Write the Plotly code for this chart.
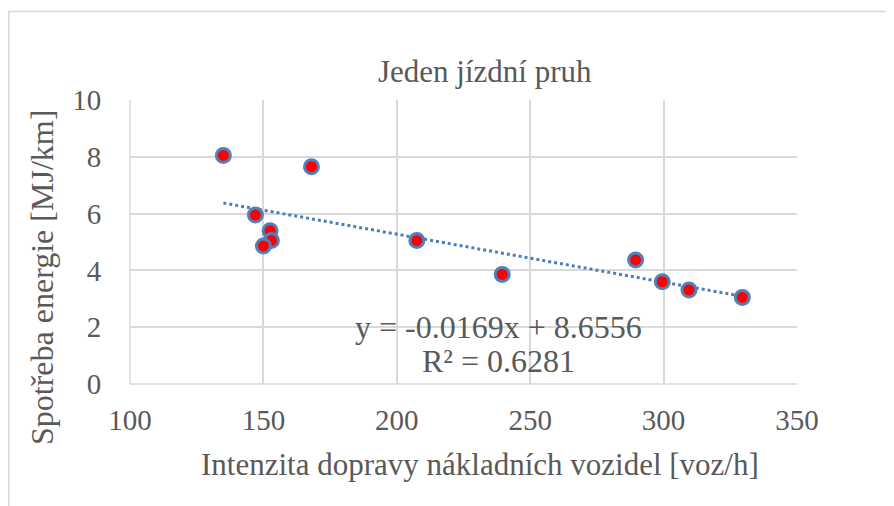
import plotly.graph_objects as go
import numpy as np

intenzita = [135, 168, 147, 152.5, 153, 150, 207.5, 239.5, 289.5, 299.5, 309.5, 329.5]
spotreba = [8.05, 7.65, 5.95, 5.4, 5.05, 4.86, 5.05, 3.86, 4.37, 3.6, 3.31, 3.05]
slope = -0.0169
intercept = 8.6556
r2 = 0.6281
x_ticks = [100, 150, 200, 250, 300, 350]
y_ticks = [0, 2, 4, 6, 8, 10]

OFF = 8  # page body margin
W, H = 894 - OFF, 506 - OFF
L, R, T, B = 130 - OFF, 797 - OFF, 100 - OFF, 384 - OFF
pw, ph = R - L, B - T

def px(xp):
    return (xp - OFF - L) / pw

def py(yp):
    return (B - (yp - OFF)) / ph

FONT = "Liberation Serif"
TXT = "#595959"

xmin, xmax = min(intenzita), max(intenzita)
trend_x = np.linspace(xmin, xmax, 50)
trend_y = slope * trend_x + intercept

fig = go.Figure()
fig.add_trace(go.Scatter(x=trend_x, y=trend_y, mode="lines",
                         line=dict(color="#4a7ebb", width=3, dash="dot"),
                         hoverinfo="skip", showlegend=False))
fig.add_trace(go.Scatter(x=intenzita, y=spotreba, mode="markers",
                         marker=dict(color="#ff0000", size=14,
                                     line=dict(color="#4f81bd", width=3)),
                         showlegend=False))

fig.update_layout(
    width=W, height=H,
    margin=dict(l=L, r=W - R, t=T, b=H - B, pad=0),
    paper_bgcolor="white", plot_bgcolor="white",
    font=dict(family=FONT, color=TXT, size=29),
    xaxis=dict(range=[100, 350], tickvals=x_ticks, showgrid=True, gridcolor="#d9d9d9",
               gridwidth=1.5, zeroline=False, showline=False, ticks="outside",
               ticklen=10, tickcolor="rgba(0,0,0,0)",
               tickfont=dict(family=FONT, size=29, color=TXT)),
    yaxis=dict(range=[0, 10], tickvals=y_ticks, showgrid=True, gridcolor="#d9d9d9",
               gridwidth=1.5, zeroline=False, showline=False, ticks="outside",
               ticklen=22, tickcolor="rgba(0,0,0,0)",
               tickfont=dict(family=FONT, size=29, color=TXT)),
    shapes=[
        dict(type="rect", xref="paper", yref="paper",
             x0=px(8.75), x1=px(910), y0=py(11.5), y1=py(520),
             line=dict(color="#d9d9d9", width=1.5), layer="below"),
        dict(type="line", xref="paper", yref="paper", x0=0, x1=0, y0=0, y1=1,
             line=dict(color="#d9d9d9", width=1.5)),
        dict(type="line", xref="paper", yref="paper", x0=0, x1=1, y0=0, y1=0,
             line=dict(color="#d9d9d9", width=1.5)),
    ],
    annotations=[
        dict(text="Jeden jízdní pruh", xref="paper", yref="paper",
             x=px(485), y=py(72), showarrow=False, font=dict(family=FONT, size=31, color=TXT),
             xanchor="center", yanchor="middle"),
        dict(text="Intenzita dopravy nákladních vozidel [voz/h]", xref="paper", yref="paper",
             x=px(480), y=py(464), showarrow=False, font=dict(family=FONT, size=31, color=TXT),
             xanchor="center", yanchor="middle"),
        dict(text="Spotřeba energie [MJ/km]", xref="paper", yref="paper",
             x=px(42), y=py(278), showarrow=False, textangle=-90,
             font=dict(family=FONT, size=32, color=TXT), xanchor="center", yanchor="middle"),
        dict(text=f"y = {slope:.4f}x + {intercept:.4f}", xref="paper", yref="paper",
             x=px(498), y=py(327), showarrow=False, font=dict(family=FONT, size=32, color=TXT),
             xanchor="center", yanchor="middle"),
        dict(text=f"R² = {r2:.4f}", xref="paper", yref="paper",
             x=px(498), y=py(361), showarrow=False, font=dict(family=FONT, size=32, color=TXT),
             xanchor="center", yanchor="middle"),
    ],
)

fig.write_html("out.html")
